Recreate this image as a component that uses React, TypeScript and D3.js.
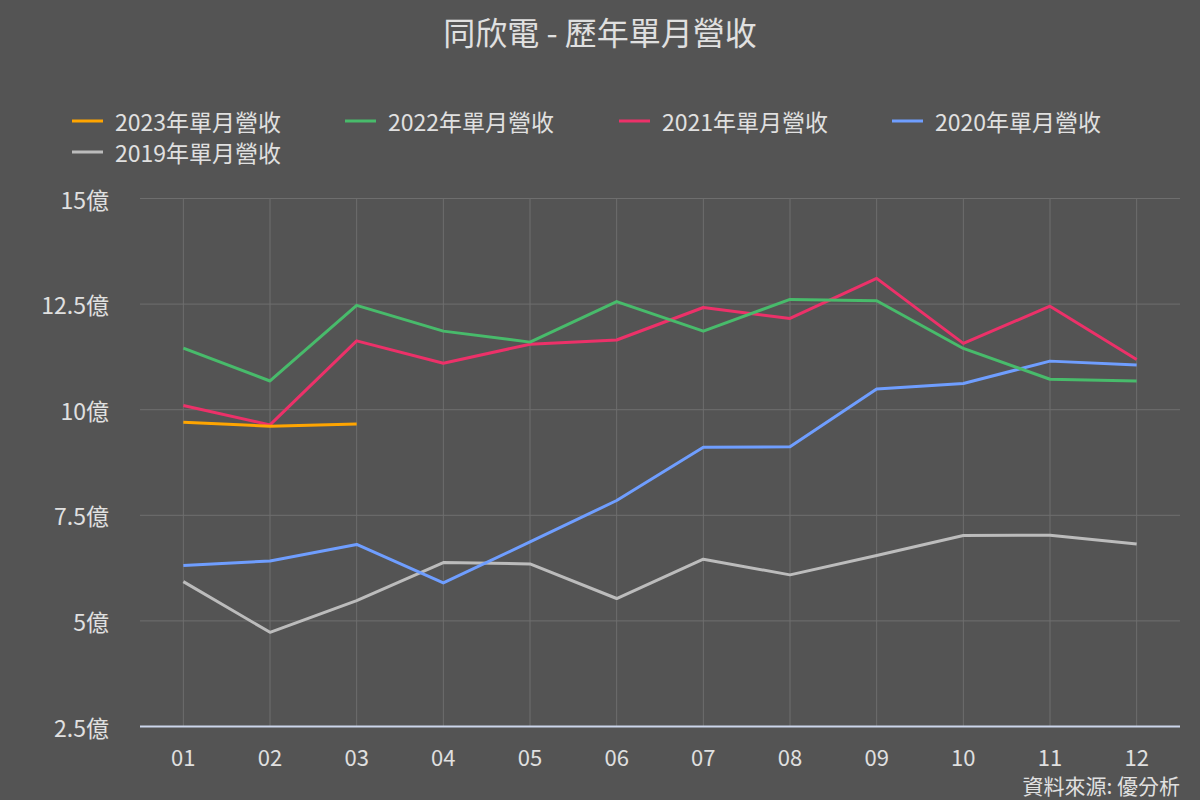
import React from "react";
import * as d3 from "d3";

const months = ["01", "02", "03", "04", "05", "06", "07", "08", "09", "10", "11", "12"];
const yTicks = [2.5, 5, 7.5, 10, 12.5, 15];
const tickLabels = ["2.5億", "5億", "7.5億", "10億", "12.5億", "15億"];

const rev2023 = [9.7, 9.61, 9.66];
const rev2022 = [11.46, 10.68, 12.47, 11.86, 11.6, 12.56, 11.86, 12.61, 12.58, 11.45, 10.72, 10.68];
const rev2021 = [10.1, 9.64, 11.63, 11.1, 11.55, 11.65, 12.42, 12.16, 13.11, 11.57, 12.45, 11.19];
const rev2020 = [6.31, 6.42, 6.81, 5.9, 6.87, 7.85, 9.11, 9.12, 10.49, 10.62, 11.15, 11.06];
const rev2019 = [5.93, 4.73, 5.48, 6.38, 6.35, 5.53, 6.46, 6.09, 6.55, 7.02, 7.03, 6.82];

const seriesNames = ["2023年單月營收", "2022年單月營收", "2021年單月營收", "2020年單月營收", "2019年單月營收"];
const seriesColors = ["#ffa500", "#48bb6b", "#ec3169", "#6f9eff", "#bcbcbc"];
const seriesData = [rev2023, rev2022, rev2021, rev2020, rev2019];

const W = 1200, H = 800;
const FONT = "'Noto Sans CJK TC', 'Noto Sans', sans-serif";

export default function App() {
  const x = d3.scaleBand<string>().domain(months).range([140, 1180]);
  const y = d3.scaleLinear().domain([2.5, 15]).range([726.5, 198.5]);
  const cx = (m: string) => (x(m) as number) + x.bandwidth() / 2;
  const line = d3
    .line<number>()
    .x((_, i) => cx(months[i]))
    .y((d) => y(d));

  const legendPos = [
    [72, 121],
    [345, 121],
    [619, 121],
    [892, 121],
    [72, 152],
  ];

  return (
    <svg width={W} height={H} style={{ display: "block", position: "absolute", left: 0, top: 0 }} fontFamily={FONT}>
      <rect x={0} y={0} width={W} height={H} fill="#545454" />
      <text x={600} y={31} textAnchor="middle" dominantBaseline="central" fill="#e0e0e0" fontSize={32}>
        同欣電 - 歷年單月營收
      </text>
      {seriesNames.map((n, i) => (
        <g key={n}>
          <line
            x1={legendPos[i][0]}
            x2={legendPos[i][0] + 31}
            y1={legendPos[i][1]}
            y2={legendPos[i][1]}
            stroke={seriesColors[i]}
            strokeWidth={3}
          />
          <text
            x={legendPos[i][0] + 43}
            y={legendPos[i][1]}
            dominantBaseline="central"
            fill="#e0e0e0"
            fontSize={23}
          >
            {n}
          </text>
        </g>
      ))}
      {yTicks.map((t) => (
        <line key={"h" + t} x1={140} x2={1180} y1={y(t)} y2={y(t)} stroke="#6e6e6e" strokeWidth={1} />
      ))}
      {months.map((m) => (
        <line key={"v" + m} x1={cx(m)} x2={cx(m)} y1={198.5} y2={726.5} stroke="#6e6e6e" strokeWidth={1} />
      ))}
      <line x1={140} x2={1180} y1={726.5} y2={726.5} stroke="#ccd6eb" strokeWidth={2} />
      {yTicks.map((t, i) => (
        <text
          key={"yl" + t}
          x={109}
          y={y(t)}
          textAnchor="end"
          dominantBaseline="central"
          fill="#e0e0e0"
          fontSize={23}
        >
          {tickLabels[i]}
        </text>
      ))}
      {months.map((m) => (
        <text key={"xl" + m} x={cx(m)} y={756} textAnchor="middle" dominantBaseline="central" fill="#e0e0e0" fontSize={22}>
          {m}
        </text>
      ))}
      {seriesData
        .map((d, i) => (
          <path key={seriesNames[i]} d={line(d) || ""} fill="none" stroke={seriesColors[i]} strokeWidth={3} strokeLinejoin="round" />
        ))
        .reverse()}
      <text x={1180} y={785} textAnchor="end" dominantBaseline="central" fill="#e0e0e0" fontSize={21}>
        資料來源: 優分析
      </text>
    </svg>
  );
}
